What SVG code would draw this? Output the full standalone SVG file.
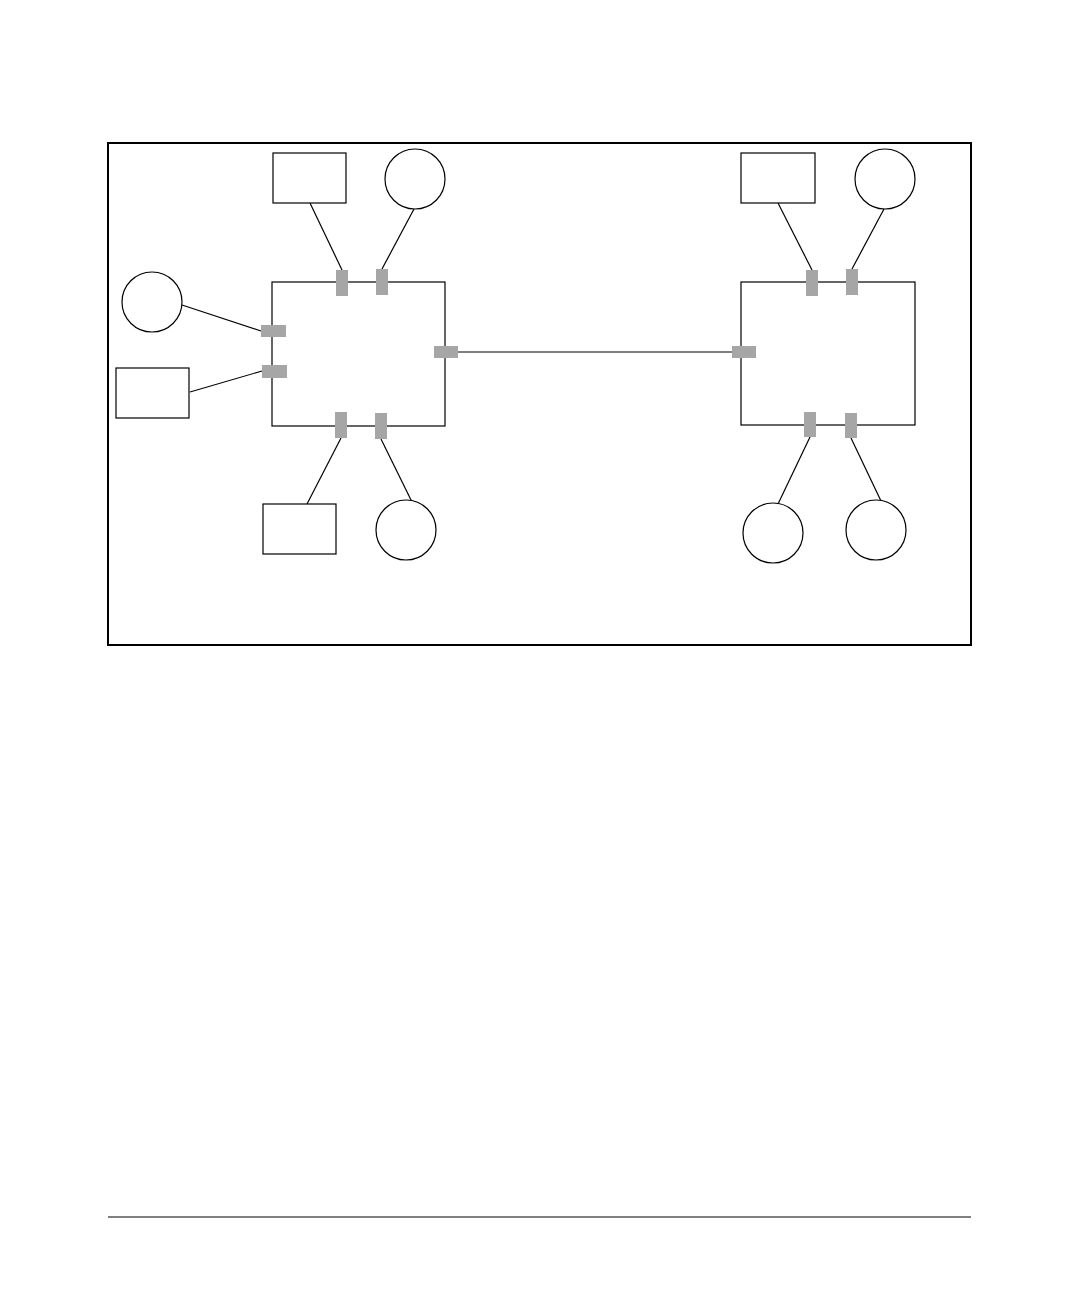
<svg xmlns="http://www.w3.org/2000/svg" width="1080" height="1296" viewBox="0 0 1080 1296">
<style>.n{fill:#fff;stroke:#000;stroke-width:1.2}.p{fill:#a6a6a6}.c line{stroke:#000;stroke-width:1.2}</style>
<rect width="1080" height="1296" fill="#fff"/>
<rect x="108" y="143" width="863" height="502" fill="none" stroke="#000" stroke-width="2"/>
<line x1="108" y1="1217" x2="971" y2="1217" stroke="#000" stroke-width="1"/>
<g class="c" id="connectors">
<line x1="310" y1="203" x2="342" y2="270"/><line x1="414" y1="209" x2="382" y2="269"/>
<line x1="182" y1="305" x2="261" y2="331"/><line x1="190" y1="392" x2="262" y2="371"/>
<line x1="458" y1="352" x2="732" y2="352"/><line x1="341" y1="438" x2="307" y2="504"/>
<line x1="381" y1="439" x2="412" y2="502"/><line x1="778" y1="203" x2="812" y2="270"/>
<line x1="884" y1="209" x2="852" y2="269"/><line x1="810" y1="437" x2="778" y2="504"/>
<line x1="851" y1="438" x2="881" y2="501"/>
</g>
<g id="switch1"><rect class="n" x="272" y="282" width="173" height="144"/>
<rect class="p" x="336" y="270" width="12" height="26"/><rect class="p" x="376" y="269" width="12" height="26"/>
<rect class="p" x="261" y="325" width="25" height="12"/><rect class="p" x="262" y="365" width="25" height="13"/>
<rect class="p" x="434" y="346" width="24" height="12"/><rect class="p" x="335" y="412" width="12" height="26"/>
<rect class="p" x="375" y="413" width="12" height="26"/></g>
<g id="switch2"><rect class="n" x="741" y="282" width="174" height="143"/>
<rect class="p" x="732" y="346" width="24" height="12"/><rect class="p" x="806" y="270" width="12" height="26"/>
<rect class="p" x="846" y="269" width="12" height="26"/><rect class="p" x="804" y="412" width="12" height="25"/>
<rect class="p" x="845" y="413" width="12" height="25"/></g>
<g id="n1"><rect class="n" x="273" y="153" width="73" height="50"/></g>
<g id="n2"><circle class="n" cx="415" cy="179" r="30"/></g>
<g id="n3"><circle class="n" cx="152" cy="302" r="30"/></g>
<g id="n4"><rect class="n" x="116" y="368" width="73" height="50"/></g>
<g id="n5"><rect class="n" x="263" y="504" width="73" height="50"/></g>
<g id="n6"><circle class="n" cx="406" cy="530" r="30"/></g>
<g id="n7"><rect class="n" x="741" y="153" width="74" height="50"/></g>
<g id="n8"><circle class="n" cx="885" cy="179" r="30"/></g>
<g id="n9"><circle class="n" cx="773" cy="533" r="30"/></g>
<g id="n10"><circle class="n" cx="876" cy="530" r="30"/></g>
</svg>
